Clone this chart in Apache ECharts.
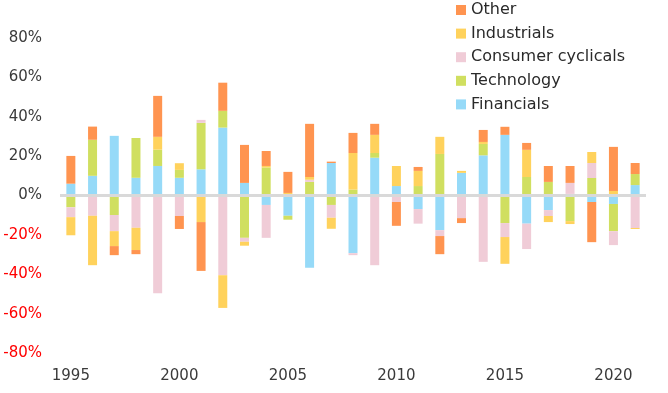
<!DOCTYPE html>
<html>
<head>
<meta charset="utf-8">
<script src="https://cdn.jsdelivr.net/npm/echarts@6/dist/echarts.min.js"></script>
<style>
  html, body { margin: 0; padding: 0; background: #fff; }
  #chart { width: 668px; height: 393px; }
</style>
</head>
<body>
<div id="chart"></div>
<script>
var years = ['1995','1996','1997','1998','1999','2000','2001','2002','2003','2004','2005','2006','2007','2008','2009','2010','2011','2012','2013','2014','2015','2016','2017','2018','2019','2020','2021'];
var financials = [6, 10, 30.3, 9, 15, 9, 13.3, 34.5, 6.4, -4.8, -10.3, -36.7, 16.5, -29.3, 19.2, 4.8, -6.9, -17.6, 11.5, 20.4, 30.8, -14.3, -7.4, 0.8, -3.3, -4.3, 5.3];
var technology = [-6, 18.3, -9.9, 20.2, 8.3, 4.0, 23.6, 8.5, -21.5, 14.2, -2.0, 6.9, -4.8, 3.0, 2.4, 0, 4.8, 21.1, 0, 5.8, -14.0, 9.4, 6.9, -13.0, 8.9, -13.8, 5.6];
var consumerCyclicals = [-5, -10.3, -8.2, -16.4, -49.6, -10.4, 1.5, -40.5, -2.0, -16.7, 0, 1.1, -6.5, -1.0, -35.4, -3.3, -7.4, -3.0, -11.5, -33.7, -7.1, -12.9, -3.0, 5.6, 7.6, -7.1, -16.5];
var industrials = [-9.2, -25.1, -7.6, -11.3, 6.5, 3.4, -13.5, -16.6, -2.0, 0.8, 1.3, 1.4, -5.6, 18.6, 9.2, 10.2, 7.7, 8.7, 1.0, 1.0, -13.6, 13.8, -3.1, -1.5, 5.6, 2.3, -0.5];
var other = [14.1, 6.7, -4.6, -2.1, 20.8, -6.6, -24.8, 14.3, 19.3, 7.6, 10.7, 27.0, 0.7, 10.2, 5.6, -12.1, 2.0, -9.2, -2.5, 6.1, 4.1, 3.5, 8.1, 8.6, -20.4, 22.4, 5.6];
var legendOrder = ['Other', 'Industrials', 'Consumer cyclicals', 'Technology', 'Financials'];

var FONT = 'DejaVu Sans';
function bar(name, data, color, extra) {
  var s = {
    name: name, type: 'bar', stack: 'total', data: data, barWidth: 9,
    itemStyle: { color: color }, emphasis: { disabled: true }
  };
  if (extra) for (var k in extra) s[k] = extra[k];
  return s;
}

var chart = echarts.init(document.getElementById('chart'), null, { renderer: 'canvas' });
chart.setOption({
  animation: false,
  backgroundColor: '#ffffff',
  grid: { left: 60, right: 22, top: 38, bottom: 40, containLabel: false },
  legend: {
    data: legendOrder,
    orient: 'vertical',
    left: 451, top: -3,
    itemWidth: 10, itemHeight: 10, itemGap: 7.6,
    icon: 'rect',
    selectedMode: false,
    textStyle: { fontFamily: FONT, fontSize: 16, color: '#2a2a2a', lineHeight: 16 }
  },
  xAxis: {
    type: 'category',
    data: years,
    axisLine: { show: false, onZero: false },
    axisTick: { show: false },
    axisLabel: { interval: 4, margin: 16, fontFamily: FONT, fontSize: 15, color: '#3a3a3a' },
    splitLine: { show: false }
  },
  yAxis: {
    type: 'value',
    min: -80, max: 80, interval: 20,
    axisLine: { show: false },
    axisTick: { show: false },
    splitLine: { show: false },
    axisLabel: {
      formatter: '{value}%', margin: 18, fontFamily: FONT, fontSize: 15,
      color: function (v) { return Number(v) < 0 ? '#ff0000' : '#3a3a3a'; }
    }
  },
  series: [
    bar('Financials', financials, '#96daf8', {
      markLine: {
        silent: true, symbol: 'none', label: { show: false },
        lineStyle: { color: '#d9d9d9', width: 3, type: 'solid' },
        data: [{ yAxis: 0 }]
      }
    }),
    bar('Technology', technology, '#d0df60'),
    bar('Consumer cyclicals', consumerCyclicals, '#f0ccd7'),
    bar('Industrials', industrials, '#ffd25c'),
    bar('Other', other, '#ff9450')
  ]
});
</script>
</body>
</html>
